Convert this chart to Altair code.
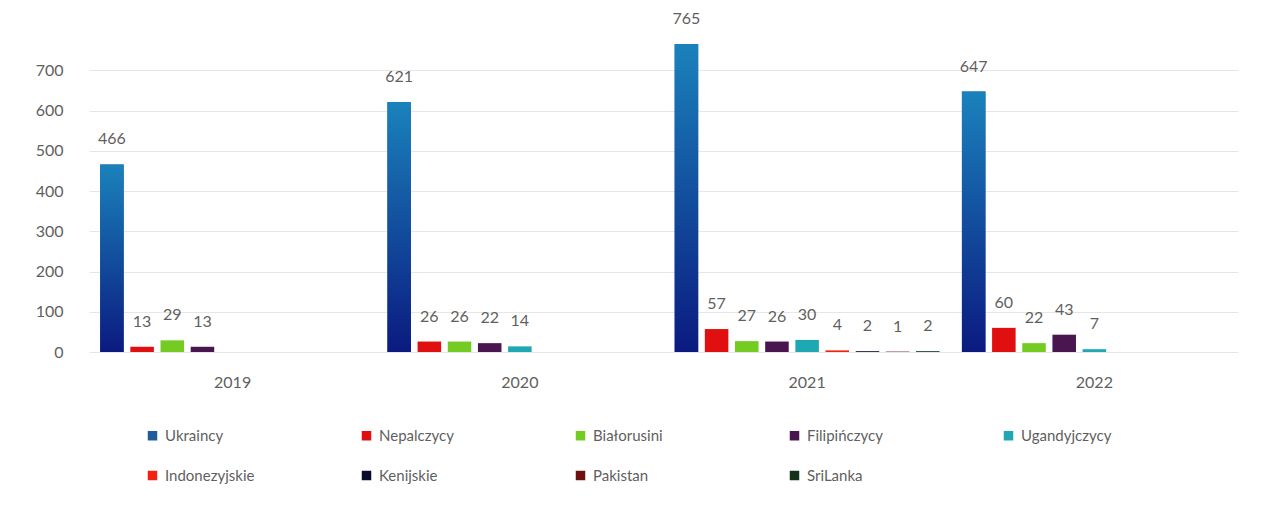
import altair as alt
import pandas as pd

years = ["2019", "2020", "2021", "2022"]
series = ["Ukraincy", "Nepalczycy", "Białorusini", "Filipińczycy", "Ugandyjczycy",
          "Indonezyjskie", "Kenijskie", "Pakistan", "SriLanka"]
colors = ["#1f5c9e", "#e01010", "#74cc22", "#4a1650", "#1fa8b4",
          "#f2200e", "#0a0a2e", "#6e1010", "#12301a"]

ukraincy = [466, 621, 765, 647]
nepalczycy = [13, 26, 57, 60]
bialorusini = [29, 26, 27, 22]
filipinczycy = [13, 22, 26, 43]
ugandyjczycy = [None, 14, 30, 7]
indonezyjskie = [None, None, 4, None]
kenijskie = [None, None, 2, None]
pakistan = [None, None, 1, None]
srilanka = [None, None, 2, None]

all_vals = [ukraincy, nepalczycy, bialorusini, filipinczycy, ugandyjczycy,
            indonezyjskie, kenijskie, pakistan, srilanka]

rows = []
for s, vals in zip(series, all_vals):
    for y, v in zip(years, vals):
        if v is not None:
            rows.append({"rok": y, "grupa": s, "liczba": v})
df = pd.DataFrame(rows)

FONT = "Lato"
GREY = "#5f5f5f"

x = alt.X("rok:N", sort=years, title=None,
          scale=alt.Scale(paddingInner=0, paddingOuter=0),
          axis=alt.Axis(labelAngle=0, domain=False, ticks=False, labelPadding=22,
                        labelFontSize=16, labelColor=GREY, labelFont=FONT))
xoff = alt.XOffset("grupa:N", sort=series,
                   scale=alt.Scale(domain=series, paddingInner=0.22, paddingOuter=0.37))
y = alt.Y("liczba:Q", title=None,
          scale=alt.Scale(domain=[0, 800], nice=False),
          axis=alt.Axis(values=[0, 100, 200, 300, 400, 500, 600, 700], domain=False,
                        ticks=False, labelPadding=26, labelFontSize=16,
                        labelColor=GREY, labelFont=FONT, gridColor="#e6e6e6"))

bars = alt.Chart(df).mark_bar().encode(
    x=x, xOffset=xoff, y=y,
    color=alt.Color("grupa:N", sort=series,
                    scale=alt.Scale(domain=series, range=colors),
                    legend=alt.Legend(title=None, orient="none", legendX=56, legendY=398,
                                      direction="horizontal",
                                      columns=5, gridAlign="all", columnPadding=103,
                                      rowPadding=24, symbolType="square", symbolSize=90,
                                      symbolStrokeWidth=0, labelFontSize=15,
                                      labelColor=GREY, labelFont=FONT, labelOffset=5)),
)

grad = alt.Gradient(gradient="linear",
                    stops=[alt.GradientStop(color="#1a82bb", offset=0),
                           alt.GradientStop(color="#0b1a80", offset=1)],
                    x1=0, x2=0, y1=0, y2=1)
ukr = alt.Chart(df).transform_filter(alt.datum.grupa == "Ukraincy").mark_bar(color=grad).encode(
    x=x, xOffset=xoff, y=y)

labels = alt.Chart(df).mark_text(baseline="middle", dy=-25, fontSize=16,
                                 color=GREY, font=FONT).encode(
    x=x, xOffset=xoff, y=y, text=alt.Text("liczba:Q"))

chart = alt.layer(bars, ukr, labels).properties(
    width=1149, height=322,
    background="white",
    autosize=alt.AutoSizeParams(type="none"),
    padding={"left": 81, "top": 22, "right": 20, "bottom": 150},
).configure_view(stroke=None)

chart.save("out.html", embed_options={"renderer": "svg", "actions": False})
